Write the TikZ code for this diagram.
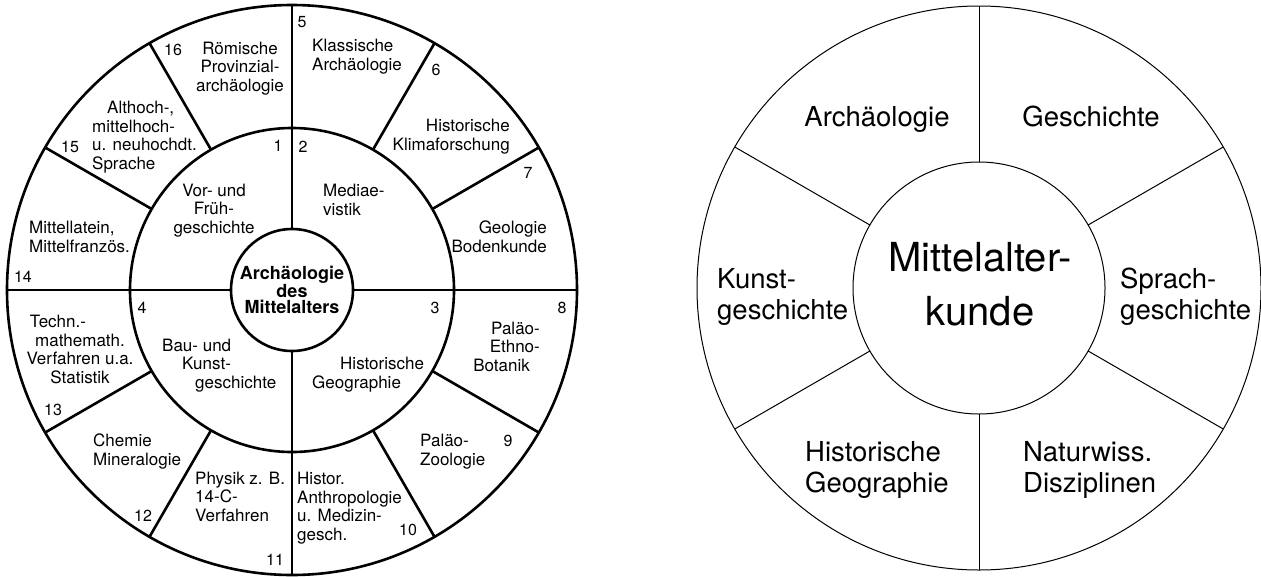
\documentclass[tikz,border=0pt]{standalone}
\usepackage{fontspec}
\setmainfont{TeX Gyre Heros}
\tikzset{ring/.style={circle,draw=black,line width=2.6pt,inner sep=0pt,outer sep=0pt}}
\tikzset{thinring/.style={circle,draw=black,line width=1pt,inner sep=0pt,outer sep=0pt}}
\tikzset{field/.style={font=\fontsize{17}{18.5}\selectfont,inner sep=0pt}}
\tikzset{fl/.style={field,align=left,anchor=base west}}
\tikzset{fc/.style={field,align=center,anchor=base}}
\tikzset{fr/.style={field,align=right,anchor=base east}}
\tikzset{nr/.style={font=\fontsize{16}{18}\selectfont,inner sep=0pt}}
\tikzset{big/.style={font=\fontsize{27.5}{31}\selectfont,inner sep=0pt}}

\begin{document}
\begin{tikzpicture}[x=1pt,y=-1pt]
\useasboundingbox (0,0) rectangle (1261,576);
% left wheel
\node (outL) [ring,minimum size=570pt] at (292,290) {};
\node (midL) [ring,minimum size=324pt] at (292,290) {};
\node (coreL) [ring,minimum size=122pt,align=center,
  font=\fontsize{18}{16.3}\selectfont\bfseries] at (292,290) {Archäologie\\des\\Mittelalters};
\foreach \a in {0,90,180,270}
  \draw[line width=2.6pt] (coreL.\a) -- (outL.\a);
\foreach \a in {30,60,120,150,210,240,300,330}
  \draw[line width=2.6pt] (midL.\a) -- (outL.\a);
% (base = last line)
\node (f1) [fc] at (214,233) {Vor- und\\Früh-\\geschichte};
\node (f2) [fl] at (323,215) {Mediae-\\vistik};
\node (f3) [fl] at (312,388) {\hspace*{28pt}Historische\\Geographie};
\node (f4) [fl] at (162,388) {Bau- und\\\hspace*{20pt}Kunst-\\\hspace*{33pt}geschichte};
\node (f5) [fl] at (312,70) {Klassische\\Archäologie};
\node (f6) [fr] at (510,150) {Historische\\Klimaforschung};
\node (f7) [fr] at (547,252) {Geologie\\Bodenkunde};
\node (f8) [fr] at (540,371) {Paläo-\\Ethno-\\Botanik\hspace*{10pt}};
\node (f9) [fl] at (420,465) {Paläo-\\Zoologie};
\node (f10) [fl] at (297,540) {Histor.\\Anthropologie\\u. Medizin-\\gesch.};
\node (f11) [fl] at (195,521) {Physik z. B.\\14-C-\\Verfahren};
\node (f12) [fl] at (93,465) {Chemie\\Mineralogie};
\node (f13) [fc] at (80,383) {Techn.-\hspace*{44pt}\\mathemath.\\Verfahren u.a.\\Statistik};
\node (f14) [fl] at (29,252) {Mittellatein,\\Mittelfranzös.};
\node (f15) [fl] at (92,169) {\hspace*{15pt}Althoch-,\\mittelhoch-\\u. neuhochdt.\\Sprache};
\node (f16) [fc] at (240,91) {Römische\\Provinzial-\\archäologie};
%
\node (n1) [nr] at (278,146) {1};
\node (n2) [nr] at (303,147) {2};
\node (n3) [nr] at (435,308) {3};
\node (n4) [nr] at (142,308) {4};
\node (n5) [nr] at (302,22) {5};
\node (n6) [nr] at (436,70) {6};
\node (n7) [nr] at (528,173) {7};
\node (n8) [nr] at (562,308) {8};
\node (n9) [nr] at (508,441) {9};
\node (n10) [nr] at (408,530) {10};
\node (n11) [nr] at (275,560) {11};
\node (n12) [nr] at (143,516) {12};
\node (n13) [nr] at (53,410) {13};
\node (n14) [nr] at (23,277) {14};
\node (n15) [nr] at (70,147) {15};
\node (n16) [nr] at (173,50) {16};
% right wheel
\node (outR) [thinring,minimum size=564pt] at (979,288) {};
\node (coreR) [thinring,minimum size=252pt] at (979,288) {};
\foreach \a in {30,90,150,210,270,330}
  \draw[line width=1pt] (coreR.\a) -- (outR.\a);
%
\node (mkR) [align=center,anchor=base,inner sep=0pt,
  font=\fontsize{40}{54}\selectfont] at (980,325) {Mittelalter-\\kunde};
\node (archR) [big,anchor=base] at (877,126) {Archäologie};
\node (geschR) [big,anchor=base] at (1091,126) {Geschichte};
\node (kunstR) [big,align=left,anchor=base west] at (717,319) {Kunst-\\geschichte};
\node (sprachR) [big,align=left,anchor=base west] at (1120,319) {Sprach-\\geschichte};
\node (geoR) [big,align=left,anchor=base west] at (805,492) {Historische\\Geographie};
\node (natR) [big,align=left,anchor=base west] at (1023,492) {Naturwiss.\\Disziplinen};
\end{tikzpicture}
\end{document}
